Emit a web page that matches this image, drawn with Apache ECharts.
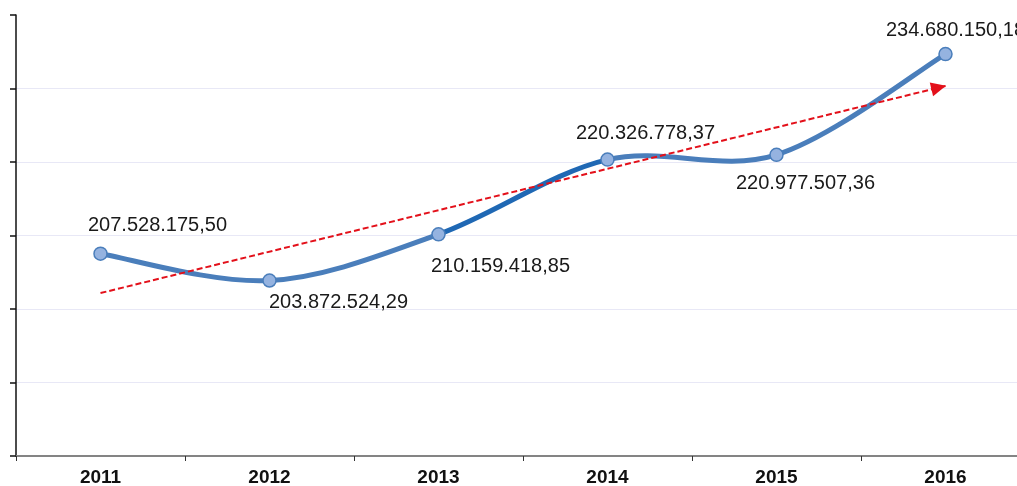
<!DOCTYPE html>
<html><head><meta charset="utf-8">
<script src="https://cdn.jsdelivr.net/npm/echarts@6/dist/echarts.min.js"></script>
<style>html,body{margin:0;padding:0;background:#fff}#c{width:1017px;height:486px}</style>
</head><body><div id="c"></div>
<script>
const categories = ['2011','2012','2013','2014','2015','2016'];
const values = [207528175.50, 203872524.29, 210159418.85, 220326778.37, 220977507.36, 234680150.18];
const yMin = 180000000, yMax = 240000000, yInterval = 10000000;

// label placement per point (style config, not data)
const labelPos = [
  {position:'top', offset:[57,-6]},
  {position:'bottom', offset:[69,0]},
  {position:'bottom', offset:[62,10]},
  {position:'top', offset:[38,-4]},
  {position:'bottom', offset:[29,6]},
  {position:'top', offset:[10,-1]}
];

function fmt(v){
  const s = v.toFixed(2).split('.');
  return s[0].replace(/\B(?=(\d{3})+(?!\d))/g,'.') + ',' + s[1];
}

// linear regression trend
const n = values.length;
const mx = (n-1)/2;
const my = values.reduce((a,b)=>a+b,0)/n;
let sxy=0, sxx=0;
values.forEach((v,i)=>{sxy+=(i-mx)*(v-my); sxx+=(i-mx)*(i-mx);});
const slope = sxy/sxx, icpt = my - slope*mx;

const data = values.map((v,i)=>({value:v, label:{position:labelPos[i].position, offset:labelPos[i].offset}}));

const light = '#4a7ebb', dark = '#1f68b4';
const gridColors = categories.map(()=> '#e8e8f6').concat(['rgba(0,0,0,0)']);

function renderSeg(params, api){
  const i = params.dataIndex;
  if (i >= n-1) return null;
  const P = k => api.coord([Math.max(0,Math.min(n-1,k)), values[Math.max(0,Math.min(n-1,k))]]);
  const p0 = P(i-1), p1 = P(i), p2 = P(i+1), p3 = P(i+2);
  const t = 1/6;
  return {
    type:'bezierCurve',
    shape:{
      x1:p1[0], y1:p1[1], x2:p2[0], y2:p2[1],
      cpx1:p1[0]+(p2[0]-p0[0])*t, cpy1:p1[1]+(p2[1]-p0[1])*t,
      cpx2:p2[0]-(p3[0]-p1[0])*t, cpy2:p2[1]-(p3[1]-p1[1])*t
    },
    style:{stroke: i===2 ? dark : light, lineWidth:5, fill:null, lineCap:'round'}
  };
}

const chart = echarts.init(document.getElementById('c'));
chart.setOption({
  animation:false,
  grid:{left:16, top:15, right:-13, bottom:30, outerBoundsMode:'none', containLabel:false},
  xAxis:{
    type:'category', data:categories, boundaryGap:true,
    axisLine:{lineStyle:{color:'#848484', width:2}},
    axisTick:{show:true, length:5, lineStyle:{color:'#333', width:1}},
    axisLabel:{color:'#111', fontFamily:'Liberation Sans, Arial, sans-serif', fontWeight:'bold', fontSize:19, margin:12}
  },
  yAxis:{
    type:'value', min:yMin, max:yMax, interval:yInterval,
    axisLine:{show:true, lineStyle:{color:'#111', width:1.5}},
    axisTick:{show:true, length:6, lineStyle:{color:'#111', width:1.5}},
    axisLabel:{show:false},
    splitLine:{lineStyle:{color:gridColors, width:1}}
  },
  series:[{
    type:'custom', renderItem:renderSeg, data:values.map((v,i)=>[i,v]),
    encode:{x:0, y:1}, z:2, silent:true, clip:false
  },{
    type:'line', data:data,
    symbol:'circle', symbolSize:13,
    itemStyle:{color:'#95b3e0', borderColor:light, borderWidth:1.5},
    lineStyle:{width:0, opacity:0},
    label:{show:true, formatter:p=>fmt(p.value), color:'#1a1a1a', fontSize:20, fontFamily:'Liberation Sans, Arial, sans-serif'},
    z:4,
    markLine:{
      silent:true, symbol:['none','triangle'], symbolSize:[14,15],
      symbolOffset:[0,[0,7]],
      label:{show:false},
      lineStyle:{color:'#e3101a', type:[6,3], width:2},
      data:[[{coord:[0, icpt]},{coord:[n-1, icpt+slope*(n-1)]}]]
    }
  }]
});
</script></body></html>
